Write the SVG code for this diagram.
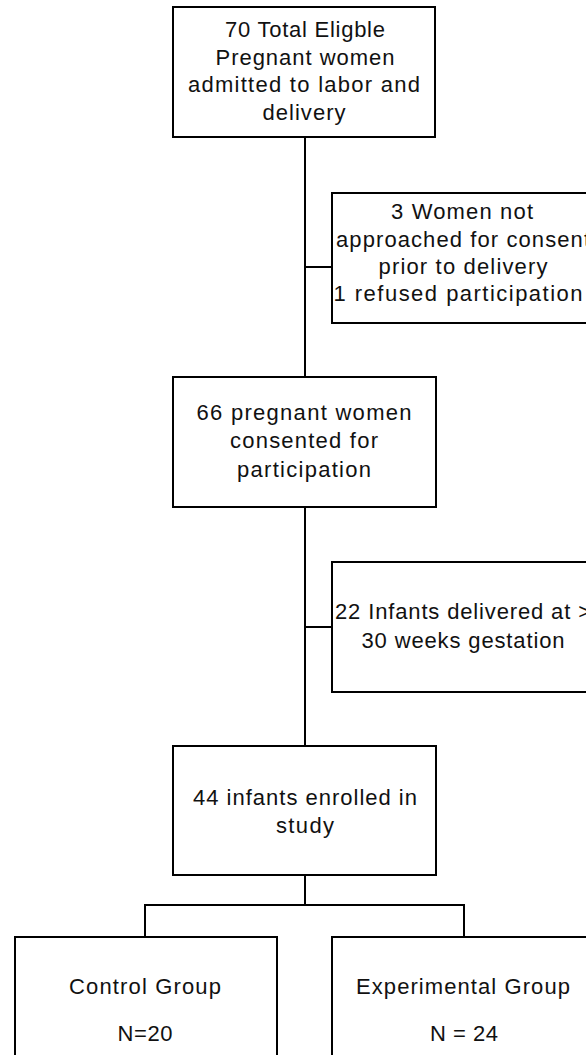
<svg xmlns="http://www.w3.org/2000/svg" width="586" height="1055" viewBox="0 0 586 1055">
<style>
.box{fill:#fff;stroke:#000;stroke-width:2}
.ln{fill:none;stroke:#000;stroke-width:2}
text{font-family:"Liberation Sans",Arial,sans-serif;font-size:22px;fill:#111;text-anchor:middle}
</style>
<rect width="586" height="1055" fill="#fff"/>
<g id="connectors">
<line class="ln" x1="305" y1="137" x2="305" y2="377"/>
<line class="ln" x1="305" y1="267" x2="332" y2="267"/>
<line class="ln" x1="305" y1="507" x2="305" y2="746"/>
<line class="ln" x1="305" y1="627" x2="332" y2="627"/>
<line class="ln" x1="305" y1="875" x2="305" y2="905"/>
<polyline class="ln" points="145,937 145,905 464,905 464,937"/>
</g>
<g id="n1">
<rect class="box" x="173" y="7" width="262" height="130"/>
<text x="305" y="37" textLength="160" lengthAdjust="spacing">70 Total Eligble</text>
<text x="305" y="65" textLength="179" lengthAdjust="spacing">Pregnant women</text>
<text x="304" y="92" textLength="232" lengthAdjust="spacing">admitted to labor and</text>
<text x="304" y="120" textLength="83" lengthAdjust="spacing">delivery</text>
</g>
<g id="n2">
<rect class="box" x="332" y="193" width="262" height="130"/>
<text x="462" y="219" textLength="142" lengthAdjust="spacing">3 Women not</text>
<text x="463" y="247" textLength="254" lengthAdjust="spacing">approached for consent</text>
<text x="463" y="274" textLength="169" lengthAdjust="spacing">prior to delivery</text>
<text x="458" y="301" textLength="249" lengthAdjust="spacing">1 refused participation</text>
</g>
<g id="n3">
<rect class="box" x="173" y="377" width="263" height="130"/>
<text x="304" y="420" textLength="215" lengthAdjust="spacing">66 pregnant women</text>
<text x="304" y="448" textLength="148" lengthAdjust="spacing">consented for</text>
<text x="304" y="477" textLength="134" lengthAdjust="spacing">participation</text>
</g>
<g id="n4">
<rect class="box" x="332" y="562" width="262" height="130"/>
<text x="463" y="619" textLength="256" lengthAdjust="spacing">22 Infants delivered at &gt;</text>
<text x="463" y="648" textLength="203" lengthAdjust="spacing">30 weeks gestation</text>
</g>
<g id="n5">
<rect class="box" x="173" y="746" width="263" height="129"/>
<text x="305" y="805" textLength="224" lengthAdjust="spacing">44 infants enrolled in</text>
<text x="305" y="833" textLength="58" lengthAdjust="spacing">study</text>
</g>
<g id="n6">
<rect class="box" x="15" y="937" width="262" height="130"/>
<text x="145" y="994" textLength="152" lengthAdjust="spacing">Control Group</text>
<text x="145" y="1041" textLength="55" lengthAdjust="spacing">N=20</text>
</g>
<g id="n7">
<rect class="box" x="332" y="937" width="262" height="130"/>
<text x="463" y="994" textLength="214" lengthAdjust="spacing">Experimental Group</text>
<text x="464" y="1041" textLength="68" lengthAdjust="spacing">N = 24</text>
</g>
</svg>
